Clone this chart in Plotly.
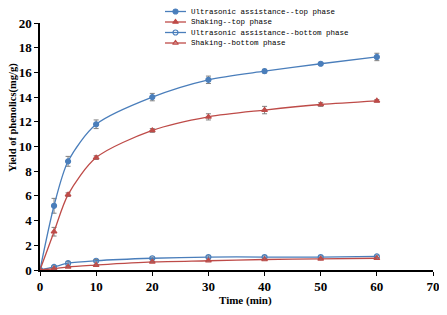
import plotly.graph_objects as go

time_min = [0, 2.5, 5, 10, 20, 30, 40, 50, 60]
ultra_top = [0, 5.2, 8.8, 11.8, 14.0, 15.4, 16.1, 16.7, 17.25]
ultra_top_err = [0, 0.6, 0.4, 0.35, 0.3, 0.3, 0.15, 0.1, 0.3]
shake_top = [0, 3.1, 6.1, 9.1, 11.3, 12.4, 12.95, 13.4, 13.7]
shake_top_err = [0, 0.35, 0.15, 0.15, 0.15, 0.25, 0.3, 0.15, 0.1]
ultra_bot = [0, 0.25, 0.55, 0.75, 0.95, 1.05, 1.05, 1.05, 1.1]
ultra_bot_err = [0, 0.1, 0.15, 0.1, 0.1, 0.1, 0.1, 0.1, 0.1]
shake_bot = [0, 0.1, 0.25, 0.4, 0.65, 0.75, 0.85, 0.9, 0.95]
shake_bot_err = [0, 0.05, 0.05, 0.05, 0.05, 0.05, 0.05, 0.05, 0.05]

x_ticks = [0, 10, 20, 30, 40, 50, 60, 70]
y_ticks = [0, 2, 4, 6, 8, 10, 12, 14, 16, 18, 20]

names = ["Ultrasonic assistance--top phase", "Shaking--top phase",
         "Ultrasonic assistance--bottom phase", "Shaking--bottom phase"]

BLUE = "#4a7ebb"
RED = "#be4b48"

series = [
    (names[0], ultra_top, ultra_top_err, BLUE, "circle"),
    (names[1], shake_top, shake_top_err, RED, "triangle-up"),
    (names[2], ultra_bot, ultra_bot_err, BLUE, "circle-open"),
    (names[3], shake_bot, shake_bot_err, RED, "triangle-up-open"),
]

OFF = 8  # page body margin
W, H = 447 - OFF, 315 - OFF
ML, MR, MT, MB = 40 - OFF, 14, 0, 45


def paper_x(page_x):
    return (page_x - OFF - ML) / (W - ML - MR)


def paper_y(page_y):
    return (H - MB - (page_y - OFF)) / (H - MT - MB)


fig = go.Figure()
for name, y, err, color, sym in series:
    fig.add_trace(go.Scatter(
        x=time_min, y=y, name=name, mode="lines+markers", showlegend=False,
        xaxis="x", yaxis="y",
        line=dict(color=color, width=1.3, shape="spline", smoothing=0.8),
        marker=dict(symbol=sym, size=5, color=color, line=dict(color=color, width=1.2)),
        error_y=dict(type="data", array=err, visible=True, color="#808080", thickness=1, width=2.5),
    ))

# compact legend drawn on a page-pixel subplot
leg_x0, leg_x1, leg_tx = 165, 186, 189
leg_rows = [11.5, 22, 32.5, 43]
for (name, y, err, color, sym), ry in zip(series, leg_rows):
    fig.add_trace(go.Scatter(
        x=[leg_x0, leg_x1], y=[ry, ry], xaxis="x2", yaxis="y2", mode="lines",
        line=dict(color=color, width=1.3), showlegend=False, hoverinfo="skip"))
    fig.add_trace(go.Scatter(
        x=[(leg_x0 + leg_x1) / 2], y=[ry], xaxis="x2", yaxis="y2", mode="markers",
        marker=dict(symbol=sym, size=5, color=color, line=dict(color=color, width=1.2)),
        showlegend=False, hoverinfo="skip"))
    fig.add_annotation(x=leg_tx, y=ry, xref="x2", yref="y2", text=name, showarrow=False,
                       xanchor="left", yanchor="middle",
                       font=dict(family="Liberation Mono", size=7.5, color="black"))

serif = "Times New Roman"
plot_top_page = 23
main_top = paper_y(plot_top_page)

fig.add_annotation(x=paper_x(13), y=paper_y(118), xref="paper", yref="paper",
                   text="Yield of phenolics(mg/g)", textangle=-90, showarrow=False,
                   xanchor="center", yanchor="middle",
                   font=dict(family=serif, size=10.5, color="black", weight="bold"))
fig.add_annotation(x=paper_x(245), y=paper_y(300), xref="paper", yref="paper",
                   text="Time (min)", showarrow=False, xanchor="center", yanchor="middle",
                   font=dict(family=serif, size=11, color="black", weight="bold"))

fig.update_layout(
    width=W, height=H,
    margin=dict(l=ML, r=MR, t=MT, b=MB, autoexpand=False),
    paper_bgcolor="white", plot_bgcolor="rgba(0,0,0,0)",
    showlegend=False,
    xaxis2=dict(domain=[0, 1], range=[ML + OFF, W - MR + OFF], visible=False, anchor="y2",
                showgrid=False, zeroline=False),
    yaxis2=dict(domain=[0, 1], range=[H - MB + OFF, MT + OFF], visible=False, anchor="x2",
                showgrid=False, zeroline=False),
    xaxis=dict(range=[0, 70], tickvals=x_ticks, domain=[0, 1], anchor="y",
               showline=True, linecolor="black", linewidth=1.5,
               ticks="outside", ticklen=4, tickcolor="black", showgrid=False, zeroline=False,
               tickfont=dict(family=serif, size=13, color="black", weight="bold")),
    yaxis=dict(range=[0, 20], tickvals=y_ticks, domain=[0, main_top], anchor="x",
               showline=True, linecolor="black", linewidth=1.5,
               ticks="outside", ticklen=4, tickcolor="black", showgrid=False, zeroline=False,
               tickfont=dict(family=serif, size=13, color="black", weight="bold")),
)

fig.write_html("out.html")
